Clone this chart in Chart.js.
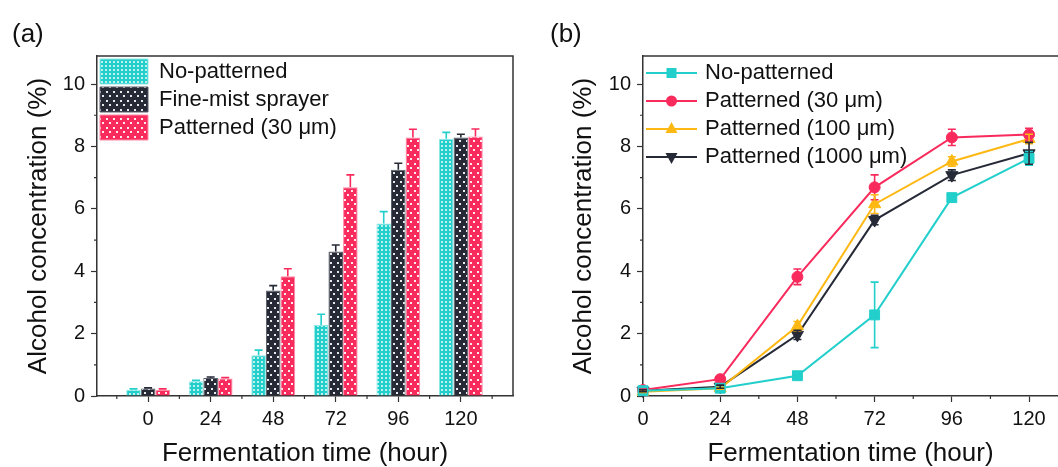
<!DOCTYPE html>
<html>
<head>
<meta charset="utf-8">
<script src="https://cdn.jsdelivr.net/npm/chart.js@4.4.1/dist/chart.umd.min.js"></script>
<style>
  html, body { margin: 0; padding: 0; background: #fff; }
  #wrap { position: relative; width: 1058px; height: 467px; overflow: hidden; }
  canvas { position: absolute; top: 0; }
  #chartA { left: 0; }
  #chartB { left: 530px; }
  .panel { position: absolute; font: 26px 'Liberation Sans', Arial, sans-serif; color: #111; line-height: 30px; }
</style>
</head>
<body>
<div id="wrap">
  <canvas id="chartA" width="530" height="467"></canvas>
  <canvas id="chartB" width="528" height="467"></canvas>
  <div class="panel" style="left:12px; top:18px;">(a)</div>
  <div class="panel" style="left:550px; top:18px;">(b)</div>
</div>
<script>
// -------------------
// DATA

const hours = [0, 24, 48, 72, 96, 120];
const yTicks = [0, 2, 4, 6, 8, 10];
const yMinor = [1, 3, 5, 7, 9];
const xMinorA = [-12, 12, 36, 60, 84, 108, 132];
const xMinorB = [12, 36, 60, 84, 108];

// (a) bars
const barLabels = ["No-patterned", "Fine-mist sprayer", "Patterned (30 μm)"];
const noPatA = [0.2, 0.47, 1.31, 2.28, 5.53, 8.25];
const noPatAErr = [0.03, 0.03, 0.16, 0.34, 0.38, 0.2];
const mistA = [0.24, 0.58, 3.38, 4.63, 7.25, 8.29];
const mistAErr = [0.02, 0.03, 0.16, 0.21, 0.21, 0.1];
const pat30A = [0.2, 0.56, 3.84, 6.69, 8.29, 8.32];
const pat30AErr = [0.03, 0.03, 0.24, 0.4, 0.26, 0.24];

// (b) lines
const lineLabels = ["No-patterned", "Patterned (30 μm)", "Patterned (100 μm)", "Patterned (1000 μm)"];
const noPatB = [0.17, 0.25, 0.65, 2.6, 6.36, 7.62];
const noPatBErr = [0.05, 0.04, 0.05, 1.05, 0.1, 0.22];
const pat30B = [0.19, 0.54, 3.82, 6.69, 8.29, 8.38];
const pat30BErr = [0.03, 0.05, 0.25, 0.4, 0.26, 0.2];
const pat100B = [0.14, 0.25, 2.24, 6.15, 7.52, 8.24];
const pat100BErr = [0.03, 0.03, 0.15, 0.3, 0.15, 0.15];
const pat1000B = [0.17, 0.3, 1.96, 5.64, 7.08, 7.78];
const pat1000BErr = [0.03, 0.05, 0.15, 0.15, 0.17, 0.35];

const cyan = "#22cfcb";
const dark = "#262a37";
const red = "#f92a5c";
const yellow = "#fdb813";

Chart.defaults.font.family = "'Liberation Sans', Arial, sans-serif";
Chart.defaults.color = "#111";
Chart.defaults.animation = false;

const toPts = arr => arr.map((v, i) => ({ x: hours[i], y: v }));

// -------------------
// PATTERNS

function makePattern(color, w, h, dots, dotColor) {
  const c = document.createElement("canvas");
  c.width = w;
  c.height = h;
  const g = c.getContext("2d");
  g.fillStyle = color;
  g.fillRect(0, 0, w, h);
  g.fillStyle = dotColor;
  dots.forEach(d => g.fillRect(d[0], d[1], 2, 2));
  return g.createPattern(c, "repeat");
}

const cyanPattern = makePattern(cyan, 4, 4, [[1, 1]], "rgba(255,255,255,0.7)");
const darkPattern = makePattern(dark, 7, 9, [[1, 1], [4, 5]], "rgba(255,255,255,0.9)");
const redPattern = makePattern(red, 7, 9, [[1, 1], [4, 5]], "rgba(255,255,255,0.9)");

// -------------------
// PLUGINS

const errorBars = {
  id: "errorBars",
  afterDatasetsDraw(chart, args, opts) {
    const ctx = chart.ctx;
    const y = chart.scales.y;
    chart.data.datasets.forEach((ds, i) => {
      const meta = chart.getDatasetMeta(i);
      const errs = opts.errors[i];
      ctx.save();
      ctx.strokeStyle = opts.colors[i];
      ctx.lineWidth = 1.6;
      meta.data.forEach((el, j) => {
        const v = ds.data[j].y;
        const top = y.getPixelForValue(v + errs[j]);
        const bottom = opts.both ? y.getPixelForValue(v - errs[j]) : el.y;
        ctx.beginPath();
        ctx.moveTo(el.x, top);
        ctx.lineTo(el.x, bottom);
        ctx.moveTo(el.x - opts.cap, top);
        ctx.lineTo(el.x + opts.cap, top);
        if (opts.both) {
          ctx.moveTo(el.x - opts.cap, bottom);
          ctx.lineTo(el.x + opts.cap, bottom);
        }
        ctx.stroke();
      });
      ctx.restore();
    });
  },
};

// frame lines + minor ticks, and legend pinned to top of the plot area
const frame = {
  id: "frame",
  afterLayout(chart) {
    const l = chart.legend;
    if (l) {
      l.top = chart.chartArea.top;
      l.bottom = chart.chartArea.bottom;
    }
  },
  afterDraw(chart, args, opts) {
    const { ctx, chartArea: a } = chart;
    const x = chart.scales.x;
    const y = chart.scales.y;
    ctx.save();
    ctx.strokeStyle = "#333";
    ctx.lineWidth = 1.5;
    ctx.beginPath();
    ctx.moveTo(a.left, a.top);
    ctx.lineTo(a.right, a.top);
    if (opts.right) ctx.lineTo(a.right, a.bottom);
    ctx.stroke();

    ctx.lineWidth = 1.2;
    ctx.beginPath();
    opts.xMinor.forEach(v => {
      const px = x.getPixelForValue(v);
      if (px > a.left && px < a.right) {
        ctx.moveTo(px, a.bottom);
        ctx.lineTo(px, a.bottom + 3);
      }
    });
    yMinor.forEach(v => {
      const py = y.getPixelForValue(v);
      ctx.moveTo(a.left - 3, py);
      ctx.lineTo(a.left, py);
    });
    ctx.stroke();
    ctx.restore();
  },
};

function makeScales(xMin, xMax, yWidth, yTitlePad) {
  return {
    x: {
      type: "linear",
      min: xMin,
      max: xMax,
      offset: false,
      afterBuildTicks: s => {
        s.ticks = hours.map(v => ({ value: v }));
      },
      afterFit: s => {
        s.height = 71;
        s.paddingLeft = 0;
        s.paddingRight = 0;
      },
      grid: { display: true, drawOnChartArea: false, offset: false, tickLength: 6, tickColor: "#333", tickWidth: 1.2 },
      border: { display: true, color: "#333", width: 1.5 },
      ticks: { font: { size: 20 }, color: "#111", padding: 5, maxRotation: 0 },
      title: { display: true, text: "Fermentation time (hour)", font: { size: 26 }, color: "#111", padding: { top: 0, bottom: -2 } },
    },
    y: {
      min: 0,
      max: 10.9,
      afterBuildTicks: s => {
        s.ticks = yTicks.map(v => ({ value: v }));
      },
      afterFit: s => {
        s.width = yWidth;
      },
      grid: { display: true, drawOnChartArea: false, tickLength: 6, tickColor: "#333", tickWidth: 1.2 },
      border: { display: true, color: "#333", width: 1.5 },
      ticks: { font: { size: 20 }, color: "#111", padding: 6 },
      title: { display: true, text: "Alcohol concentration (%)", font: { size: 26 }, color: "#111", padding: { top: yTitlePad, bottom: 0 } },
    },
  };
}

// -------------------
// (a) BAR CHART

const chartA = new Chart(document.getElementById("chartA"), {
  type: "bar",
  data: {
    datasets: [
      { label: barLabels[0], data: toPts(noPatA), backgroundColor: cyanPattern, borderColor: "#8fe8e5", borderWidth: 1 },
      { label: barLabels[1], data: toPts(mistA), backgroundColor: darkPattern, borderColor: "#5a5e6a", borderWidth: 1 },
      { label: barLabels[2], data: toPts(pat30A), backgroundColor: redPattern, borderColor: "#ff8aa6", borderWidth: 1 },
    ],
  },
  options: {
    responsive: false,
    categoryPercentage: 0.7,
    barPercentage: 1,
    layout: { autoPadding: false, padding: { top: 56, right: 17, left: 0, bottom: 0 } },
    scales: makeScales(-19.6, 140, 97, 23),
    plugins: {
      tooltip: { enabled: false },
      legend: {
        position: "chartArea",
        align: "start",
        labels: { boxWidth: 48, boxHeight: 25, padding: 3, font: { size: 22 }, color: "#111" },
      },
      errorBars: { errors: [noPatAErr, mistAErr, pat30AErr], colors: [cyan, dark, red], both: false, cap: 4 },
      frame: { right: true, xMinor: xMinorA },
    },
  },
  plugins: [errorBars, frame],
});

// -------------------
// (b) LINE CHART

function makeIcon(color, shape) {
  const c = document.createElement("canvas");
  c.width = 51;
  c.height = 16;
  const g = c.getContext("2d");
  g.strokeStyle = color;
  g.fillStyle = color;
  g.lineWidth = 2;
  g.beginPath();
  g.moveTo(0, 8);
  g.lineTo(51, 8);
  g.stroke();
  g.beginPath();
  const cx = 25.5;
  const cy = 8;
  if (shape === "rect") {
    g.rect(cx - 5, cy - 5, 10, 10);
  } else if (shape === "circle") {
    g.arc(cx, cy, 5.5, 0, Math.PI * 2);
  } else if (shape === "up") {
    g.moveTo(cx, cy - 7);
    g.lineTo(cx + 6, cy + 4);
    g.lineTo(cx - 6, cy + 4);
  } else {
    g.moveTo(cx, cy + 7);
    g.lineTo(cx + 6, cy - 4);
    g.lineTo(cx - 6, cy - 4);
  }
  g.closePath();
  g.fill();
  return c;
}

const legendIcons = [
  makeIcon(cyan, "rect"),
  makeIcon(red, "circle"),
  makeIcon(yellow, "up"),
  makeIcon(dark, "down"),
];

const lineStyle = (label, data, color, pointStyle, radius, rotation) => ({
  label: label,
  data: toPts(data),
  borderColor: color,
  backgroundColor: color,
  borderWidth: 2,
  pointStyle: pointStyle,
  pointRadius: radius,
  pointRotation: rotation,
  pointBorderWidth: 1,
  tension: 0,
  clip: false,
});

const chartB = new Chart(document.getElementById("chartB"), {
  type: "line",
  data: {
    datasets: [
      lineStyle(lineLabels[0], noPatB, cyan, "rect", 7, 0),
      lineStyle(lineLabels[1], pat30B, red, "circle", 5.5, 0),
      lineStyle(lineLabels[2], pat100B, yellow, "triangle", 7, 0),
      lineStyle(lineLabels[3], pat1000B, dark, "triangle", 7, 180),
    ],
  },
  options: {
    responsive: false,
    layout: { autoPadding: false, padding: { top: 56, right: 0, left: 0, bottom: 0 } },
    scales: makeScales(0, 129, 113, 38),
    plugins: {
      tooltip: { enabled: false },
      legend: {
        position: "chartArea",
        align: "start",
        labels: {
          usePointStyle: true,
          pointStyleWidth: 45,
          padding: 6,
          font: { size: 22 },
          color: "#111",
          generateLabels: chart =>
            Chart.defaults.plugins.legend.labels.generateLabels(chart).map((item, i) => ({ ...item, pointStyle: legendIcons[i], rotation: 0 })),
        },
      },
      errorBars: { errors: [noPatBErr, pat30BErr, pat100BErr, pat1000BErr], colors: [cyan, red, yellow, dark], both: true, cap: 4 },
      frame: { right: false, xMinor: xMinorB },
    },
  },
  plugins: [errorBars, frame],
});
</script>
</body>
</html>
